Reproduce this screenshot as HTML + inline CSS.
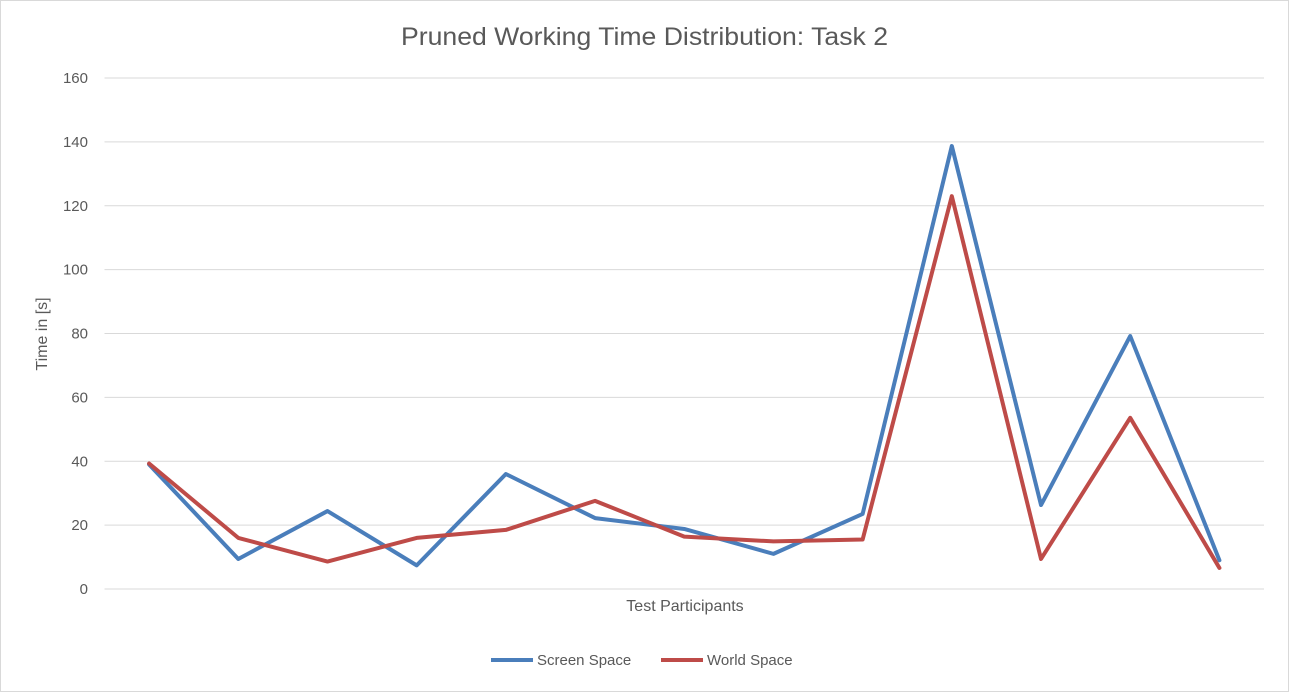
<!DOCTYPE html>
<html><head><meta charset="utf-8"><style>
body{margin:0;background:#fff;font-family:"Liberation Sans",sans-serif;}
</style></head><body>
<svg id="chart" width="1289" height="692" xmlns="http://www.w3.org/2000/svg">
<rect x="0.5" y="0.5" width="1288" height="691" fill="#fff" stroke="#d9d9d9"/>
<text x="401" y="45" font-size="25" fill="#595959" textLength="487" lengthAdjust="spacingAndGlyphs">Pruned Working Time Distribution: Task 2</text>
<g id="grid"></g><g id="yticks"></g><g id="series"></g>
<text x="685" y="611" text-anchor="middle" font-size="16" fill="#595959">Test Participants</text>
<text transform="translate(47,334) rotate(-90)" text-anchor="middle" font-size="16" fill="#595959">Time in [s]</text>
<g>
<line x1="491" y1="660" x2="533" y2="660" stroke="#4a7ebb" stroke-width="4"/>
<text x="537" y="665" font-size="15" fill="#595959">Screen Space</text>
<line x1="661" y1="660" x2="703" y2="660" stroke="#be4b48" stroke-width="4"/>
<text x="707" y="665" font-size="15" fill="#595959">World Space</text>
</g>
</svg>
<script>
const categories=[1,2,3,4,5,6,7,8,9,10,11,12,13];
const screenSpace=[39,9.4,24.4,7.4,36,22.2,18.8,11,23.5,138.7,26.3,79.2,9];
const worldSpace=[39.3,16,8.6,16,18.5,27.6,16.4,14.9,15.5,123,9.4,53.6,6.6];
const yTicks=[0,20,40,60,80,100,120,140,160];
const NS="http://www.w3.org/2000/svg";
const plotLeft=104.5,plotRight=1264,plotTop=78,plotBottom=589,yMax=160;
const step=(plotRight-plotLeft)/categories.length;
const xPos=i=>plotLeft+step*(i+0.5);
const yPos=v=>plotBottom-(v/yMax)*(plotBottom-plotTop);
const grid=document.getElementById('grid'),yt=document.getElementById('yticks'),ser=document.getElementById('series');
yTicks.forEach(t=>{
 const l=document.createElementNS(NS,'line');
 l.setAttribute('x1',plotLeft);l.setAttribute('x2',plotRight);l.setAttribute('y1',yPos(t));l.setAttribute('y2',yPos(t));
 l.setAttribute('stroke','#d9d9d9');l.setAttribute('stroke-width','1');
 
 
 grid.appendChild(l);
 const tx=document.createElementNS(NS,'text');
 tx.setAttribute('x',88);tx.setAttribute('y',yPos(t)+5);tx.setAttribute('text-anchor','end');
 tx.setAttribute('font-size','15');tx.setAttribute('fill','#595959');tx.textContent=t;
 
 
 yt.appendChild(tx);
});
function draw(vals,color,name){
 const p=document.createElementNS(NS,'polyline');
 p.setAttribute('points',vals.map((v,i)=>xPos(i)+','+yPos(v)).join(' '));
 p.setAttribute('fill','none');p.setAttribute('stroke',color);p.setAttribute('stroke-width','4');
 p.setAttribute('stroke-linejoin','round');p.setAttribute('stroke-linecap','round');
 
 
 ser.appendChild(p);
}
draw(screenSpace,'#4a7ebb','screen-space-line');
draw(worldSpace,'#be4b48','world-space-line');
</script>
</body></html>
